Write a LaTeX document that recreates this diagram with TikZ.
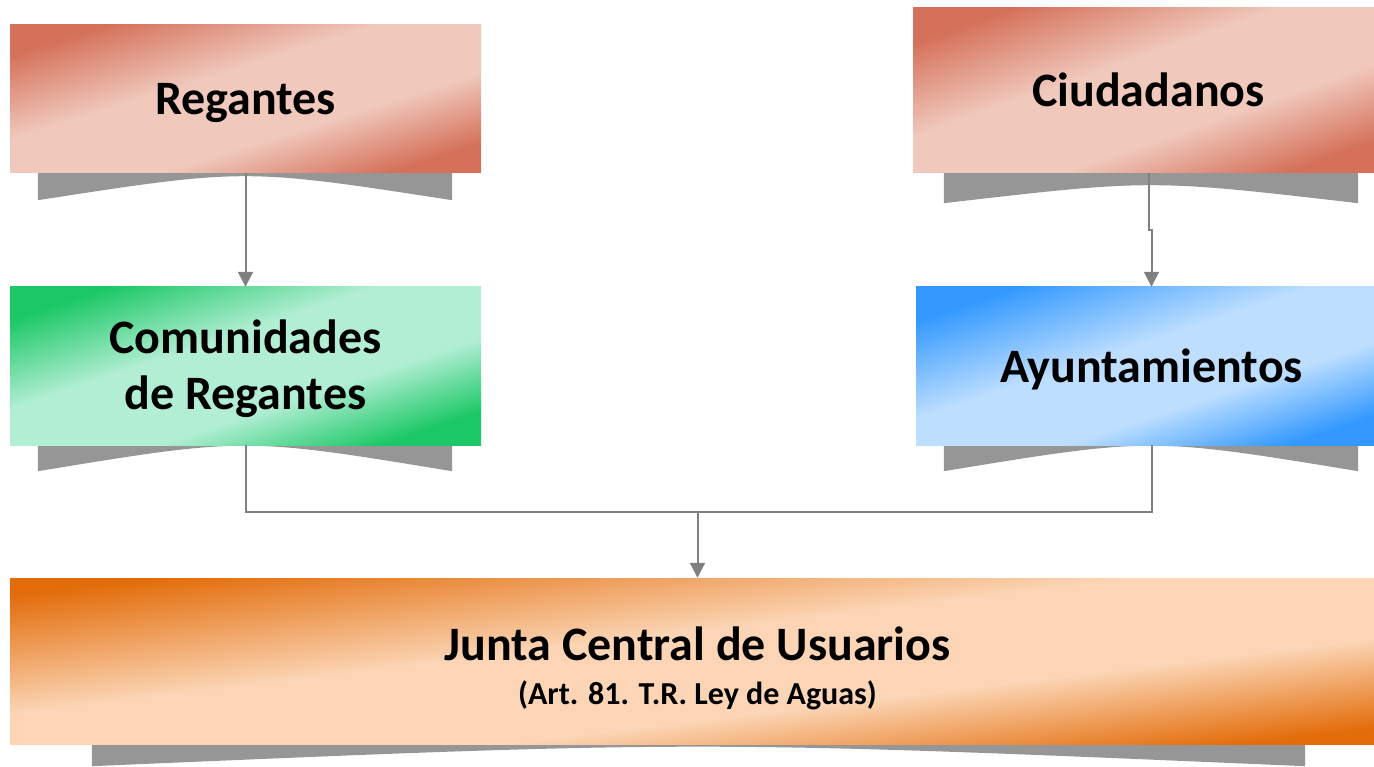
\documentclass[tikz,border=0pt]{standalone}
\usepackage{fontspec}
\setmainfont{Carlito}
\usetikzlibrary{positioning, calc, backgrounds, arrows.meta}

\definecolor{redDark}{HTML}{D5715A}
\definecolor{redLight}{HTML}{F0C8BC}
\definecolor{greenDark}{HTML}{1CC866}
\definecolor{greenLight}{HTML}{B2EED4}
\definecolor{blueDark}{HTML}{3399FF}
\definecolor{blueLight}{HTML}{BEDEFF}
\definecolor{orangeDark}{HTML}{E36C0A}
\definecolor{orangeLight}{HTML}{FBD5B5}
\definecolor{shadowgray}{HTML}{969696}
\definecolor{conngray}{HTML}{808080}

\pgfdeclarehorizontalshading{redshade}{100bp}{color(0bp)=(redDark); color(25bp)=(redDark); color(43bp)=(redLight); color(60bp)=(redLight); color(75bp)=(redDark); color(100bp)=(redDark)}
\pgfdeclarehorizontalshading{greenshade}{100bp}{color(0bp)=(greenDark); color(25bp)=(greenDark); color(43bp)=(greenLight); color(60bp)=(greenLight); color(75bp)=(greenDark); color(100bp)=(greenDark)}
\pgfdeclarehorizontalshading{blueshade}{100bp}{color(0bp)=(blueDark); color(25bp)=(blueDark); color(45bp)=(blueLight); color(60bp)=(blueLight); color(75bp)=(blueDark); color(100bp)=(blueDark)}
\pgfdeclarehorizontalshading{orangeshade}{100bp}{color(0bp)=(orangeDark); color(25bp)=(orangeDark); color(45bp)=(orangeLight); color(60bp)=(orangeLight); color(75bp)=(orangeDark); color(100bp)=(orangeDark)}

\tikzset{
	box/.style={rectangle, inner sep=0pt, align=center, minimum width=471pt, font=\bfseries\fontsize{48}{56}\selectfont},
	oneline/.style={text height=36pt, text depth=4pt},
	redbox/.style={box, oneline, shading=redshade},
	greenbox/.style={box, shading=greenshade},
	bluebox/.style={box, oneline, shading=blueshade},
	orangebox/.style={box, shading=orangeshade},
	% curved grey strip under each box
	strip/.style={fill=shadowgray},
}

\begin{document}
\begin{tikzpicture}[x=1pt, y=-1pt]
	\useasboundingbox (0,0) rectangle (1374,767);
	
	\node (reg) [redbox, minimum height=148pt, shading angle=-72.6] at (245.5,99) {Regantes};
	\node (ciu) [redbox, minimum height=165pt, shading angle=-70.7] at (1148.5,90.5) {Ciudadanos};
	
	\node (com) [greenbox, minimum height=158pt, shading angle=-71.5] at (245.5,366) {\rule{0pt}{40pt}Comunidades\\de Regantes};
	\node (ayu) [bluebox, minimum height=158pt, shading angle=-71.5] at (1151.5,366) {Ayuntamientos};
	
	\node (jun) [orangebox, minimum width=1375pt, minimum height=166pt, shading angle=-83.1] at (697.5,661) {\rule{0pt}{48pt}Junta Central de Usuarios\\[-12pt]{\fontsize{32}{38}\selectfont(Art. 81. T.R. Ley de Aguas)}};
	
	\coordinate (join) at ($(jun.north)+(0,-66)$);
	
	\begin{scope}[on background layer]
		\foreach \n/\l/\r/\e/\c in {reg/28/29/27/-5, ciu/31/26/30/6, com/28/29/26/-8, ayu/28/29/26/-8, jun/82/80/22/-4}{
			\fill[strip] ($(\n.south west)+(\l,0)$) coordinate (a) -- ($(\n.south east)+(-\r,0)$) coordinate (b)
				-- ($(b)+(0,\e)$) .. controls ($(a)!0.5!(b)+(0,\c)$) .. ($(a)+(0,\e)$) -- cycle;
		}
	\end{scope}
	
	\begin{scope}[line width=2pt, conngray, >={Triangle[width=15pt,length=15pt]}]
		\draw[->] (reg) -- (com);
		\draw[->] (ciu.south) -- ++(0,57) -| (ayu.north);
		\draw (com.south) |- (join) -| (ayu.south);
		\draw[->] (join) -- (jun.north);
	\end{scope}
	
\end{tikzpicture}
\end{document}
